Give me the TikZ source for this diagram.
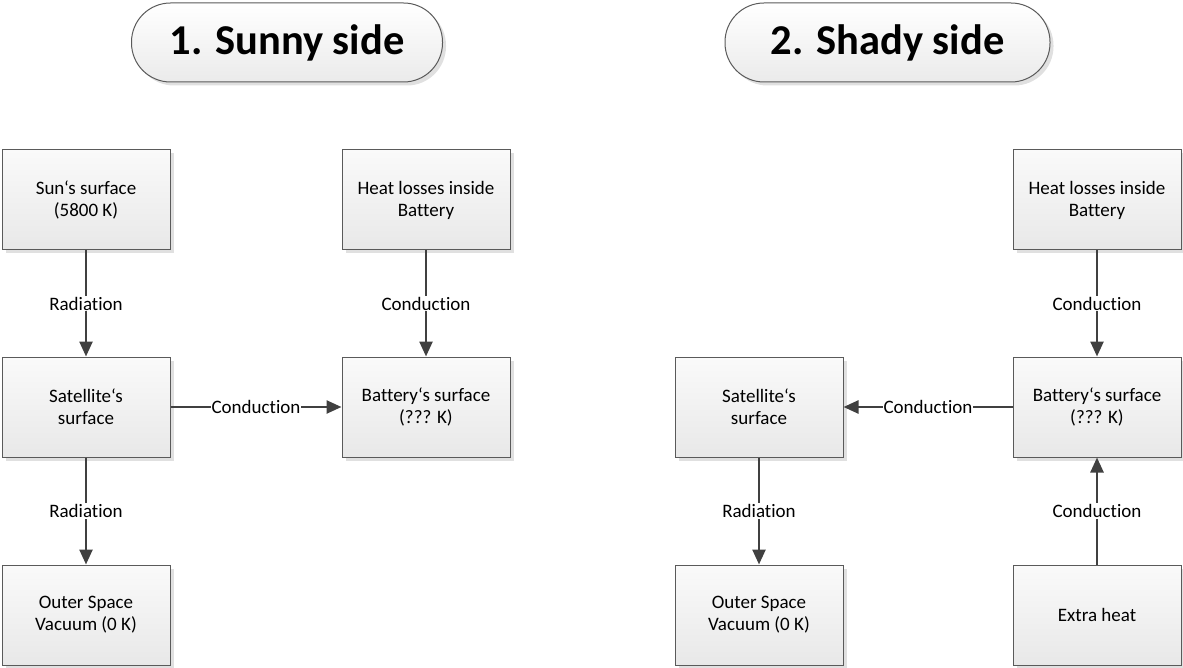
\documentclass[tikz,border=0pt]{standalone}
\usepackage{fontspec}
\setmainfont{Carlito}[Ligatures=NoCommon]
\usetikzlibrary{arrows.meta,shadows}
\definecolor{edge}{HTML}{404040}
\definecolor{boxline}{HTML}{5A5A5A}
\tikzset{
  blk/.style={draw=boxline, line width=1pt, shading=axis, top color=black!2, bottom color=black!9,
    minimum width=168pt, minimum height=100pt, align=center, inner sep=2pt,
    font=\fontsize{19}{22}\selectfont,
    drop shadow={shadow xshift=3.5pt, shadow yshift=-3.5pt, fill=black!12, opacity=1}},
  ttl/.style={draw=boxline, line width=1pt, shading=axis, top color=white, bottom color=black!8,
    minimum height=79pt, rounded corners=39pt,
    font=\fontsize{42.5}{48}\selectfont\bfseries,
    drop shadow={shadow xshift=3.5pt, shadow yshift=-3.5pt, fill=black!12, opacity=1}},
  conn/.style={draw=edge, line width=2.5pt, -{Triangle[length=15pt,width=13pt]}},
  lbl/.style={fill=white, inner sep=1pt, font=\fontsize{19}{22}\selectfont, text=black}
}
\begin{document}
\begin{tikzpicture}[x=1pt,y=-1pt]
\useasboundingbox (0,0) rectangle (1183,668);
\node[ttl, minimum width=311pt] (t1) at (287,42.5) {1. Sunny side};
\node[ttl, minimum width=325pt] (t2) at (887.5,42.5) {2. Shady side};
% left
\node[blk] (sun) at (86,200) {Sun‘s surface\\(5800 K)};
\node[blk] (heatL) at (426,200) {Heat losses inside\\Battery};
\node[blk] (satL) at (86,407) {Satellite‘s\\surface};
\node[blk] (batL) at (426,407) {Battery‘s surface\\(??? K)};
\node[blk] (outL) at (86,615) {Outer Space\\Vacuum (0 K)};
% right
\node[blk] (heatR) at (1097,200) {Heat losses inside\\Battery};
\node[blk] (satR) at (759,407) {Satellite‘s\\surface};
\node[blk] (batR) at (1097,407) {Battery‘s surface\\(??? K)};
\node[blk] (outR) at (759,615) {Outer Space\\Vacuum (0 K)};
\node[blk] (extra) at (1097,615) {Extra heat};
% connectors
\draw[conn] (sun) -- node[lbl] {Radiation} (satL);
\draw[conn] (heatL) -- node[lbl] {Conduction} (batL);
\draw[conn] (satL) -- node[lbl] {Conduction} (batL);
\draw[conn] (satL) -- node[lbl] {Radiation} (outL);
\draw[conn] (heatR) -- node[lbl] {Conduction} (batR);
\draw[conn] (batR) -- node[lbl] {Conduction} (satR);
\draw[conn] (satR) -- node[lbl] {Radiation} (outR);
\draw[conn] (extra) -- node[lbl] {Conduction} (batR);
\end{tikzpicture}
\end{document}
